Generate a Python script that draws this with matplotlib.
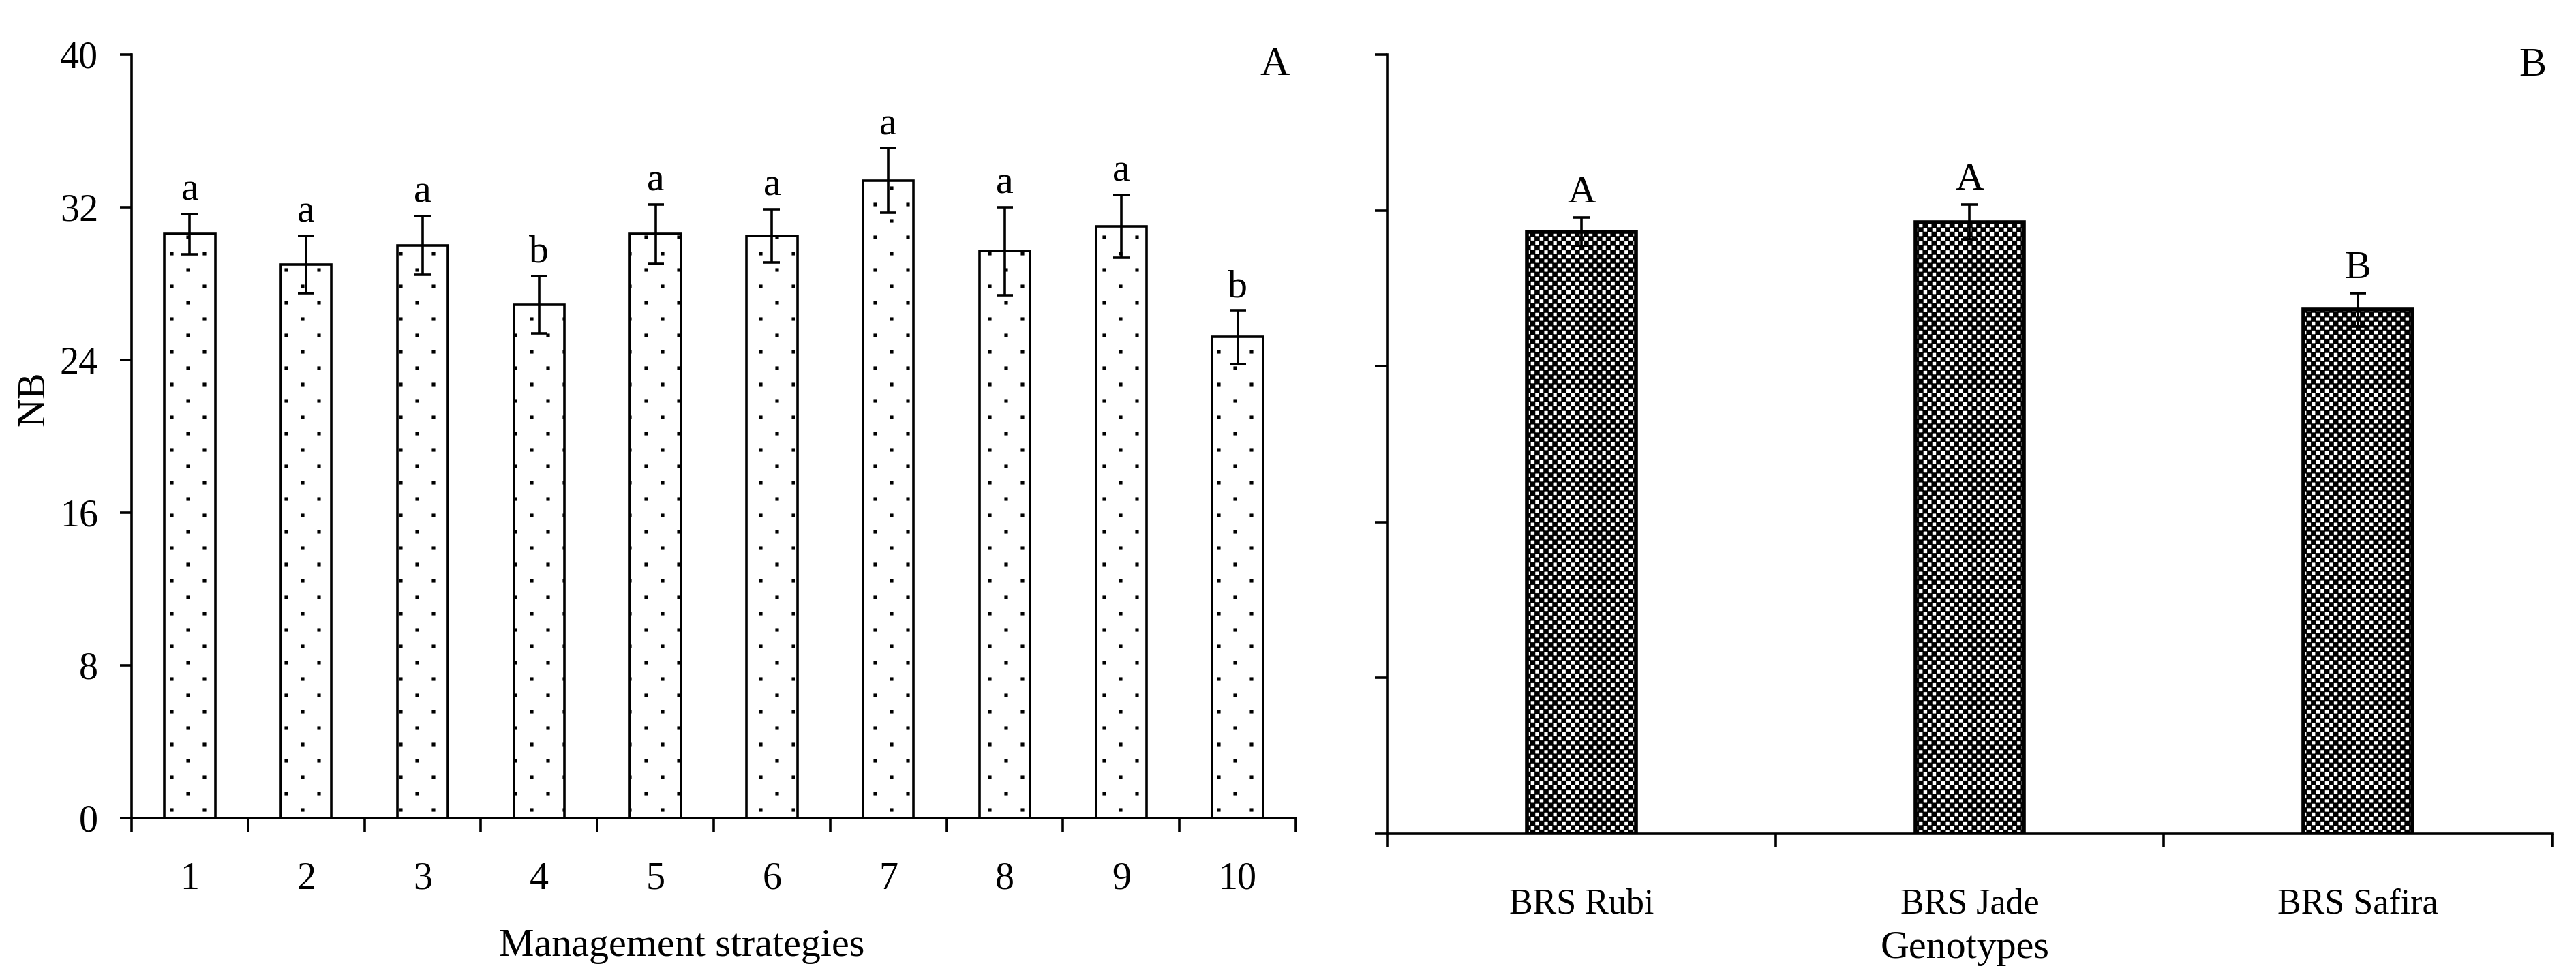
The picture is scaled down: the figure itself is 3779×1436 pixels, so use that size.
import numpy as np
import matplotlib as mpl
from matplotlib import pyplot as plt
from matplotlib import hatch as mhatch
from matplotlib.path import Path

mpl.use("agg")
mpl.rcParams["font.family"] = ["Liberation Serif", "DejaVu Serif"]
mpl.rcParams["font.size"] = 14
mpl.rcParams["axes.linewidth"] = 0.9
mpl.rcParams["hatch.linewidth"] = 0.1

DPI = 288

strategies = ["1", "2", "3", "4", "5", "6", "7", "8", "9", "10"]
nb_strategy = [30.6, 29.0, 30.0, 26.9, 30.6, 30.5, 33.4, 29.7, 31.0, 25.2]
err_strategy = [1.05, 1.5, 1.55, 1.5, 1.55, 1.4, 1.7, 2.3, 1.65, 1.4]
letters_strategy = ["a", "a", "a", "b", "a", "a", "a", "a", "a", "b"]

genotypes = ["BRS Rubi", "BRS Jade", "BRS Safira"]
nb_genotype = [30.9, 31.4, 26.9]
err_genotype = [0.75, 0.9, 0.85]
letters_genotype = ["A", "A", "B"]

yticks = [0, 8, 16, 24, 32, 40]


# custom fill patterns (sparse staggered dots, fine checkerboard)
_SQ_CODES = [Path.MOVETO, Path.LINETO, Path.LINETO, Path.LINETO, Path.CLOSEPOLY]


def _square(cx, cy, h):
    return np.array([[cx - h, cy - h], [cx + h, cy - h], [cx + h, cy + h],
                     [cx - h, cy + h], [cx - h, cy - h]])


class DotLattice(mhatch.HatchPatternBase):
    cols, rows, size = 6, 12, 0.016

    def __init__(self, hatch, density):
        self.num_vertices = 5 * self.cols * self.rows if "." in hatch else 0

    def set_vertices_and_codes(self, vertices, codes):
        k = 0
        for r in range(self.rows):
            for c in range(self.cols):
                cx = (c + 0.25 + 0.5 * (r % 2)) / self.cols
                cy = (r + 0.5) / self.rows
                vertices[k:k + 5] = _square(cx, cy, self.size / 2)
                codes[k:k + 5] = _SQ_CODES
                k += 5


class Checker(mhatch.HatchPatternBase):
    n = 44

    def __init__(self, hatch, density):
        self.num_vertices = 5 * (self.n * self.n // 2) if "O" in hatch else 0

    def set_vertices_and_codes(self, vertices, codes):
        k = 0
        s = 1.0 / self.n
        for i in range(self.n):
            for j in range(self.n):
                if (i + j) % 2 == 0:
                    vertices[k:k + 5] = _square((i + 0.5) * s, (j + 0.5) * s, 0.56 * s)
                    codes[k:k + 5] = _SQ_CODES
                    k += 5


mhatch._hatch_types = [DotLattice, Checker]


fig = plt.figure(figsize=(3779 / DPI, 1436 / DPI), dpi=DPI)
ax1 = fig.add_axes([0.05107, 0.16435, 0.45197, 0.77994])
ax2 = fig.add_axes([0.53850, 0.14833, 0.45224, 0.79596])

err_kw = {"ecolor": "black", "elinewidth": 0.9, "capsize": 3, "capthick": 0.9}

# panel A: management strategies
x1 = np.arange(1, len(strategies) + 1)
ax1.bar(x1, nb_strategy, width=0.435, color="white", edgecolor="black",
        linewidth=0.9, hatch=".", yerr=err_strategy, error_kw=err_kw)
for xi, m, e, lt in zip(x1, nb_strategy, err_strategy, letters_strategy):
    ax1.annotate(lt, (xi, m + e), xytext=(0, 5), textcoords="offset points",
                 ha="center", va="baseline", fontsize=14.5)

ax1.set_xlim(0.5, len(strategies) + 0.5)
ax1.set_ylim(0, 40)
ax1.set_yticks(yticks)
ax1.set_xticks(np.arange(len(strategies) + 1) + 0.5, [])
ax1.set_xticks(x1, strategies, minor=True)
ax1.tick_params(axis="x", which="major", direction="out", length=5, width=0.9)
ax1.tick_params(axis="x", which="minor", length=0, pad=16)
ax1.tick_params(axis="y", direction="out", length=4.25, width=0.9, pad=8)
ax1.set_xlabel("Management strategies", fontsize=14.5)
ax1.xaxis.set_label_coords(0.4725, -0.145)
ax1.set_ylabel("NB", fontsize=14.5)
ax1.yaxis.set_label_coords(-0.068, 0.549)
for s in ["top", "right"]:
    ax1.spines[s].set_visible(False)
ax1.text(0.982, 0.973, "A", transform=ax1.transAxes, ha="center",
         va="baseline", fontsize=15)

# panel B: genotypes
x2 = np.arange(1, len(genotypes) + 1)
ax2.bar(x2, nb_genotype, width=0.28, color="white", edgecolor="black",
        linewidth=1.4, hatch="O", yerr=err_genotype, error_kw=err_kw)
for xi, m, e, lt in zip(x2, nb_genotype, err_genotype, letters_genotype):
    ax2.annotate(lt, (xi, m + e), xytext=(0, 5.5), textcoords="offset points",
                 ha="center", va="baseline", fontsize=14.5)

ax2.set_xlim(0.5, len(genotypes) + 0.5)
ax2.set_ylim(0, 40)
ax2.set_yticks(yticks, [])
ax2.set_xticks(np.arange(len(genotypes) + 1) + 0.5, [])
ax2.set_xticks(x2, genotypes, minor=True)
ax2.tick_params(axis="x", which="major", direction="out", length=5, width=0.9)
ax2.tick_params(axis="x", which="minor", length=0, pad=20, labelsize=13)
ax2.tick_params(axis="y", direction="out", length=4.5, width=0.9)
ax2.set_xlabel("Genotypes", fontsize=14.5)
ax2.xaxis.set_label_coords(0.496, -0.124)
for s in ["top", "right"]:
    ax2.spines[s].set_visible(False)
ax2.text(0.983, 0.973, "B", transform=ax2.transAxes, ha="center",
         va="baseline", fontsize=15)

fig.savefig("out.png", dpi=DPI, facecolor="white")
plt.close(fig)
